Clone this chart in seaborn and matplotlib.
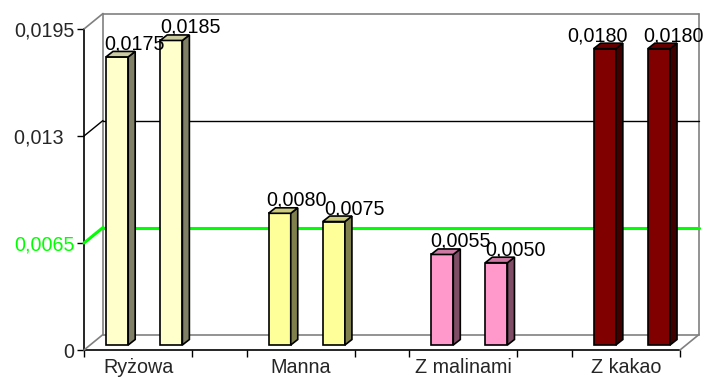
import numpy as np
import pandas as pd
import matplotlib
matplotlib.use("Agg")
import matplotlib.pyplot as plt
import matplotlib.transforms as mtransforms
from matplotlib.patches import Polygon
import seaborn as sns

# Data
categories = ["Ryżowa", "Manna", "Z malinami", "Z kakao"]
series_1 = [0.0175, 0.0080, 0.0055, 0.0180]
series_2 = [0.0185, 0.0075, 0.0050, 0.0180]
bar_colors = ["#FFFFCC", "#FFFF99", "#FF99CC", "#800000"]
y_ticks = [0, 0.0065, 0.013, 0.0195]
y_tick_labels = ["0", "0,0065", "0,013  ", "0,0195"]

sns.set_theme(style="white")
plt.rcParams["font.family"] = ["Liberation Sans", "DejaVu Sans"]

# each category takes 3 slots: two bars + one gap
rows = []
for i, cat in enumerate(categories):
    rows.append({"pos": 3 * i + 0.5, "value": series_1[i], "cat": cat})
    rows.append({"pos": 3 * i + 1.5, "value": series_2[i], "cat": cat})
df = pd.DataFrame(rows)

W, H = 704, 378
fs = 14.2
fig = plt.figure(figsize=(W / 100, H / 100), dpi=100)
ax = fig.add_axes([84 / W, 28 / H, 596 / W, 321 / H])
ax.set_xlim(0, 11)
ax.set_ylim(0, 0.0195)


def shift(dx, dy):
    # offset in pixels (right, up) for the fake 3d depth
    return ax.transData + mtransforms.ScaledTranslation(dx / 100, dy / 100, fig.dpi_scale_trans)


back = shift(19, 15.5)
gray = "#808080"

# back wall and side wall
ax.plot([0, 11], [0.0195, 0.0195], color=gray, lw=1.2, transform=back, clip_on=False)
ax.plot([0, 11], [0, 0], color=gray, lw=1.2, transform=back, clip_on=False)
ax.plot([0, 0], [0, 0.0195], color=gray, lw=1.2, transform=back, clip_on=False)
ax.plot([11, 11], [0, 0.0195], color=gray, lw=1.2, transform=back, clip_on=False)
ax.plot([0, 11], [0.013, 0.013], color="black", lw=1, transform=back, clip_on=False)
ax.plot([0, 11], [0.0065, 0.0065], color="#00FF00", lw=2.2, transform=back, clip_on=False)

for yv, col, lw in [(0.0195, gray, 1.2), (0.013, "black", 1), (0.0065, "#00FF00", 2.2), (0, gray, 1.2)]:
    a = ax.transData.transform((0, yv))
    b = back.transform((0, yv))
    fig.add_artist(plt.Line2D([a[0] / W, b[0] / W], [a[1] / H, b[1] / H], color=col, lw=lw,
                              transform=fig.transFigure))
a = ax.transData.transform((11, 0))
b = back.transform((11, 0))
fig.add_artist(plt.Line2D([a[0] / W, b[0] / W], [a[1] / H, b[1] / H], color=gray, lw=1.2,
                          transform=fig.transFigure))

# bars
sns.barplot(data=df, x="pos", y="value", hue="cat", palette=bar_colors, hue_order=categories,
            native_scale=True, dodge=False, width=0.41, edgecolor="black", linewidth=1.2,
            saturation=1, legend=False, ax=ax)
ax.set_xlim(0, 11)
ax.set_ylim(0, 0.0195)
ax.set_xlabel("")
ax.set_ylabel("")

front = shift(6, 5)
dxp, dyp = 7, 5.5
# horizontal nudges of the value labels (px, from bar centre), as excel placed them
label_dx = [17, 19, 17, 21, 18, 19, -7, 15]
bars = sorted(ax.patches, key=lambda p: p.get_x())
for p, ldx in zip(bars, label_dx):
    p.set_transform(front)
    p.set_clip_on(False)
    p.set_zorder(3)
    x0, w, h = p.get_x(), p.get_width(), p.get_height()
    fc = np.array(p.get_facecolor()[:3])
    bl = front.transform((x0 + w, 0))
    tr = front.transform((x0 + w, h))
    tl = front.transform((x0, h))
    side = [bl, tr, tr + [dxp, dyp], bl + [dxp, dyp]]
    top = [tl, tr, tr + [dxp, dyp], tl + [dxp, dyp]]
    for poly, k in [(side, 0.5), (top, 0.8)]:
        fig.add_artist(Polygon(np.array(poly), closed=True, transform=None,
                               facecolor=fc * k, edgecolor="black", lw=1.2, zorder=3))
    lbl = f"{h:.4f}".replace(".", ",")
    ax.text(x0 + w / 2, h, lbl, transform=shift(ldx + 6, 18), ha="center", va="center",
            fontsize=fs, color="black", zorder=5, clip_on=False)

# axes
for s in ["top", "right"]:
    ax.spines[s].set_visible(False)
for s in ["left", "bottom"]:
    ax.spines[s].set_color("black")
    ax.spines[s].set_linewidth(1.2)

ax.set_yticks(y_ticks)
ax.set_yticklabels(y_tick_labels)
ax.tick_params(axis="y", left=True, length=5, width=1, pad=2, labelsize=fs, color="black")
ax.get_yticklabels()[1].set_color("#00FF00")

ax.set_xticks([3 * i + 1 for i in range(len(categories))])
ax.set_xticklabels(categories)
ax.set_xticks(range(12), minor=True)
ax.tick_params(axis="x", which="major", bottom=False, length=0, pad=6, labelsize=fs)
ax.tick_params(axis="x", which="minor", bottom=True, length=5, width=1, color="black")

fig.savefig("out.png", dpi=100)
